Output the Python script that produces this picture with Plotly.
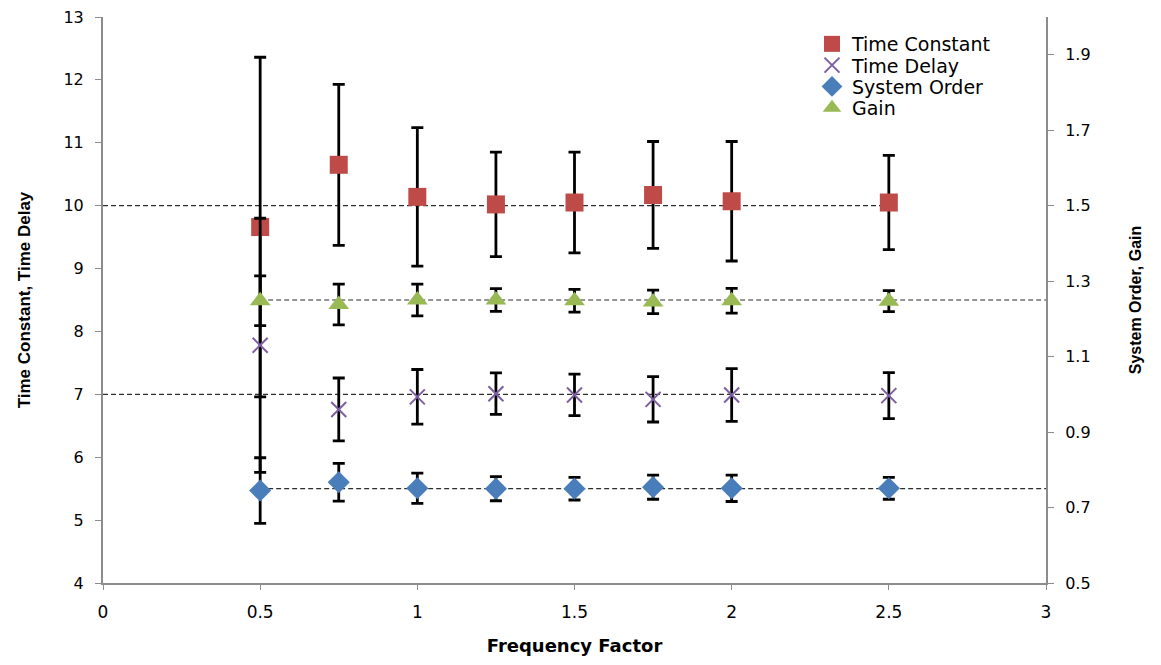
import plotly.graph_objects as go

# ---- data ----
freq = [0.5, 0.75, 1.0, 1.25, 1.5, 1.75, 2.0, 2.5]

time_constant = [9.66, 10.65, 10.14, 10.02, 10.05, 10.17, 10.07, 10.05]
time_constant_err = [2.70, 1.28, 1.10, 0.83, 0.80, 0.85, 0.95, 0.75]

time_delay = [7.78, 6.76, 6.96, 7.01, 6.99, 6.92, 6.99, 6.98]
time_delay_err = [2.02, 0.50, 0.435, 0.33, 0.33, 0.36, 0.42, 0.365]

system_order = [0.745, 0.767, 0.751, 0.750, 0.750, 0.754, 0.751, 0.751]
system_order_err = [0.087, 0.050, 0.040, 0.032, 0.030, 0.032, 0.035, 0.029]

gain = [1.248, 1.238, 1.250, 1.250, 1.248, 1.245, 1.248, 1.247]
gain_err = [0.066, 0.054, 0.042, 0.030, 0.030, 0.031, 0.033, 0.028]

# reference (target) levels
ref_left_levels = [10, 7]          # Time Constant, Time Delay targets
ref_left_span = [0, 2.5]
ref_right_levels = [1.25, 0.75]    # Gain, System Order targets
ref_right_span = [0.5, 3]

x_ticks = [0, 0.5, 1, 1.5, 2, 2.5, 3]
x_tick_text = ["0", "0.5", "1", "1.5", "2", "2.5", "3"]
left_ticks = [4, 5, 6, 7, 8, 9, 10, 11, 12, 13]
right_ticks = [0.5, 0.7, 0.9, 1.1, 1.3, 1.5, 1.7, 1.9]
right_tick_text = ["0.5", "0.7", "0.9", "1.1", "1.3", "1.5", "1.7", "1.9"]

# ---- styles ----
RED = "#BE4B48"
PURPLE = "#7D5FA0"
BLUE = "#4A7EBB"
GREEN = "#98B954"
AXIS = "#8C8C8C"
DASH = "#2E2E2E"
WIDE = "DejaVu Sans, Verdana, sans-serif"
TITLE = "Liberation Sans, Arial, sans-serif"

W, H = 1161, 665
ML, MR, MT, MB = 103, 115, 17, 82
PLOT_H = H - MT - MB
PLOT_W = W - ML - MR

fig = go.Figure()

for lvl in ref_left_levels:
    fig.add_trace(go.Scatter(x=ref_left_span, y=[lvl, lvl], mode="lines",
                             line=dict(color=DASH, width=1.2, dash="5px,3px"),
                             showlegend=False, hoverinfo="skip", yaxis="y"))
for lvl in ref_right_levels:
    fig.add_trace(go.Scatter(x=ref_right_span, y=[lvl, lvl], mode="lines",
                             line=dict(color=DASH, width=1.2, dash="5px,3px"),
                             showlegend=False, hoverinfo="skip", yaxis="y2"))

def err(arr):
    return dict(type="data", array=arr, visible=True, color="black",
                thickness=2.8, width=6)

fig.add_trace(go.Scatter(x=freq, y=time_constant, mode="markers", name="Time Constant",
                         marker=dict(symbol="square", size=18, color=RED),
                         error_y=err(time_constant_err), yaxis="y", legend="legend"))
fig.add_trace(go.Scatter(x=freq, y=time_delay, mode="markers", name="Time Delay",
                         marker=dict(symbol="x-thin", size=15, color=PURPLE,
                                     line=dict(color=PURPLE, width=2)),
                         error_y=err(time_delay_err), yaxis="y", legend="legend2"))
fig.add_trace(go.Scatter(x=freq, y=system_order, mode="markers", name="System Order",
                         marker=dict(symbol="diamond", size=17, color=BLUE),
                         error_y=err(system_order_err), yaxis="y2", legend="legend3"))
fig.add_trace(go.Scatter(x=freq, y=gain, mode="markers", name="Gain",
                         marker=dict(symbol="triangle-up", size=18, color=GREEN),
                         error_y=err(gain_err), yaxis="y2", legend="legend4"))

# one legend box per entry so the row spacing matches the reference
LEG_LEFT_PX = 812
LEG_FIRST_PX = 44
LEG_STEP_PX = 21.3
legends = {}
for i, key in enumerate(["legend", "legend2", "legend3", "legend4"]):
    legends[key] = dict(
        x=(LEG_LEFT_PX - ML) / PLOT_W, xanchor="left",
        y=(H - MB - (LEG_FIRST_PX + i * LEG_STEP_PX)) / PLOT_H, yanchor="middle",
        font=dict(family=WIDE, size=19, color="black"),
        bgcolor="rgba(0,0,0,0)", itemwidth=30, borderwidth=0)

fig.update_layout(
    width=W, height=H,
    margin=dict(l=ML, r=MR, t=MT, b=MB, autoexpand=False),
    paper_bgcolor="white", plot_bgcolor="white",
    showlegend=True,
    **legends,
    xaxis=dict(range=[0, 3], tickvals=x_ticks, ticktext=x_tick_text,
               showline=True, linecolor=AXIS, linewidth=2, mirror=False,
               ticks="outside", ticklen=5, tickcolor=AXIS, tickwidth=1,
               showgrid=False, zeroline=False, automargin=False,
               tickfont=dict(family=WIDE, size=17, color="black"),
               ticklabelstandoff=8,
               title=dict(text="<b>Frequency Factor</b>", standoff=18,
                          font=dict(family=WIDE, size=18, color="black"))),
    yaxis=dict(range=[4, 13], tickvals=left_ticks,
               showline=True, linecolor=AXIS, linewidth=2,
               ticks="outside", ticklen=6, tickcolor=AXIS, tickwidth=1,
               showgrid=False, zeroline=False, automargin=False,
               tickfont=dict(family=WIDE, size=16, color="black"),
               ticklabelstandoff=8,
               title=dict(text="<b>Time Constant, Time Delay</b>", standoff=28,
                          font=dict(family=TITLE, size=17, color="black"))),
    yaxis2=dict(range=[0.5, 2.0], tickvals=right_ticks, ticktext=right_tick_text,
                overlaying="y", side="right",
                showline=True, linecolor=AXIS, linewidth=2,
                ticks="outside", ticklen=6, tickcolor=AXIS, tickwidth=1,
                showgrid=False, zeroline=False, automargin=False,
                tickfont=dict(family=WIDE, size=16, color="black"),
                ticklabelstandoff=8,
                title=dict(text="<b>System Order, Gain</b>", standoff=40,
                           font=dict(family=TITLE, size=16, color="black"))),
)

fig.write_html("out.html")
